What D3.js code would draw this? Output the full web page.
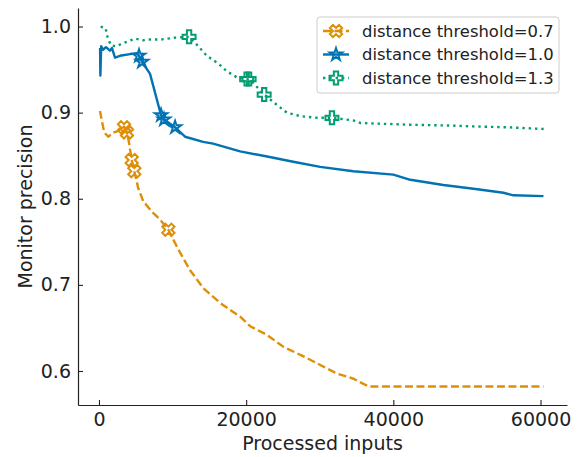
<!DOCTYPE html>
<html>
<head>
<meta charset="utf-8">
<script src="https://cdn.jsdelivr.net/npm/d3@7"></script>
<style>
  body { margin: 0; background: #fff; }
  svg { font-family: "DejaVu Sans", sans-serif; }
</style>
</head>
<body>
<svg width="577" height="457"></svg>
<script>
// series
let labels = ["distance threshold=0.7", "distance threshold=1.0", "distance threshold=1.3"];
let colors = ["#de8f05", "#0173b2", "#029e73"];

let x07 = [136, 449, 721, 1265, 1946, 2408, 2993, 3401, 3809, 4082, 4449, 4803, 5347, 6027, 7170, 8299, 9428, 10789, 12381, 14190, 16462, 19183, 20544, 22816, 25075, 27796, 30067, 32339, 34598, 36638, 60400];
let y07 = [0.902, 0.888, 0.877, 0.872, 0.877, 0.878, 0.882, 0.883, 0.877, 0.865, 0.845, 0.832, 0.812, 0.797, 0.785, 0.776, 0.764, 0.741, 0.717, 0.696, 0.679, 0.663, 0.652, 0.642, 0.628, 0.617, 0.607, 0.597, 0.591, 0.582, 0.582];
let mx07 = [3401, 3809, 4449, 4803, 9428];
let my07 = [0.883, 0.877, 0.845, 0.832, 0.764];

let x10 = [150, 190, 300, 544, 952, 1497, 1769, 2177, 2857, 4218, 5170, 5440, 5850, 6939, 8435, 8844, 10340, 11700, 14150, 15510, 19183, 22857, 26394, 30067, 34557, 40000, 42312, 46800, 51427, 54964, 56325, 60400];
let y10 = [0.975, 0.943, 0.977, 0.973, 0.976, 0.972, 0.975, 0.964, 0.966, 0.968, 0.969, 0.966, 0.959, 0.945, 0.897, 0.892, 0.883, 0.872, 0.866, 0.864, 0.855, 0.849, 0.843, 0.837, 0.832, 0.828, 0.822, 0.816, 0.811, 0.807, 0.804, 0.803];
let mx10 = [5440, 5850, 8435, 8844, 10340];
let my10 = [0.966, 0.959, 0.897, 0.892, 0.883];

let x13 = [231, 912, 1048, 1265, 1633, 2408, 3088, 3986, 4898, 5986, 6939, 8530, 10245, 12245, 13292, 14653, 16231, 17374, 18734, 20067, 20544, 22448, 24176, 25537, 27346, 29618, 31659, 34557, 35509, 41863, 47754, 50883, 55468, 60447];
let y13 = [1.000, 0.998, 0.991, 0.985, 0.978, 0.977, 0.980, 0.983, 0.986, 0.984, 0.985, 0.985, 0.987, 0.988, 0.979, 0.966, 0.957, 0.948, 0.941, 0.939, 0.938, 0.921, 0.909, 0.900, 0.896, 0.894, 0.894, 0.891, 0.888, 0.886, 0.885, 0.884, 0.883, 0.881];
let mx13 = [12245, 20067, 20400, 22448, 31659];
let my13 = [0.988, 0.939, 0.939, 0.921, 0.894];

let xTicks = [0, 20000, 40000, 60000];
let yTicks = [0.6, 0.7, 0.8, 0.9, 1.0];

let svg = d3.select('svg');

let plotLeft = 78, plotRight = 567, plotTop = 8, plotBottom = 405;
let x = d3.scaleLinear().domain([-2850, 63600]).range([plotLeft, plotRight]);
let y = d3.scaleLinear().domain([0.5605, 1.0215]).range([plotBottom, plotTop]);

// marker shapes, matplotlib style (P, X, *)
let plusPts = [[-1,-3],[1,-3],[1,-1],[3,-1],[3,1],[1,1],[1,3],[-1,3],[-1,1],[-3,1],[-3,-1],[-1,-1]];
function plusPath(s) {
  let u = s / 6;
  return "M" + plusPts.map(p => [p[0]*u, p[1]*u].join(",")).join("L") + "Z";
}
function crossPath(s) {
  let u = s / 6;
  let c = Math.SQRT1_2;
  return "M" + plusPts.map(p => [(p[0]-p[1])*c*u, (p[0]+p[1])*c*u].join(",")).join("L") + "Z";
}
function starPath(s) {
  let r = s / 2, ri = r * 0.381966, pts = [];
  for (let i = 0; i < 10; i++) {
    let a = -Math.PI / 2 + i * Math.PI / 5;
    let rr = i % 2 == 0 ? r : ri;
    pts.push([rr * Math.cos(a), rr * Math.sin(a)]);
  }
  return "M" + pts.map(p => p.join(",")).join("L") + "Z";
}

let series = [
  {xs: x07, ys: y07, mx: mx07, my: my07, dash: "8,3.5", marker: crossPath(13), width: 2.4},
  {xs: x10, ys: y10, mx: mx10, my: my10, dash: null, marker: starPath(13), width: 2.4},
  {xs: x13, ys: y13, mx: mx13, my: my13, dash: "2.4,3.9", marker: plusPath(13), width: 2.4}
];

let line = d3.line().x(d => x(d[0])).y(d => y(d[1]));

let plot = svg.append('g');
series.forEach(function(s, i) {
  plot.append('path')
    .attr('d', line(s.xs.map((v, j) => [v, s.ys[j]])))
    .attr('fill', 'none')
    .attr('stroke', colors[i])
    .attr('stroke-width', s.width)
    .attr('stroke-dasharray', s.dash)
    .attr('stroke-linejoin', 'round');
  plot.selectAll(null).data(s.mx.map((v, j) => [v, s.my[j]])).enter().append('path')
    .attr('d', s.marker)
    .attr('transform', d => 'translate(' + x(d[0]) + ',' + y(d[1]) + ')')
    .attr('fill', 'none')
    .attr('stroke', colors[i])
    .attr('stroke-width', 2);
});

// axes, ticks pointing inward
let xAxisG = svg.append('g').attr('transform', 'translate(0,' + plotBottom + ')')
  .call(d3.axisBottom(x).tickValues(xTicks).tickFormat(d3.format('d')).tickSizeInner(-5).tickSizeOuter(0).tickPadding(8));
let yAxisG = svg.append('g').attr('transform', 'translate(' + plotLeft + ',0)')
  .call(d3.axisLeft(y).tickValues(yTicks).tickFormat(d3.format('.1f')).tickSizeInner(-5).tickSizeOuter(0).tickPadding(7));

[xAxisG, yAxisG].forEach(function(a) {
  a.selectAll('text').attr('font-size', 19).attr('fill', '#222').attr('font-family', '"DejaVu Sans", sans-serif');
  a.selectAll('line').attr('stroke', '#222').attr('stroke-width', 1.1);
  a.select('.domain').attr('stroke', '#222').attr('stroke-width', 1.2);
});

svg.append('text')
  .attr('x', (plotLeft + plotRight) / 2).attr('y', 450)
  .attr('text-anchor', 'middle').attr('font-size', 19).attr('fill', '#222')
  .text('Processed inputs');
svg.append('text')
  .attr('transform', 'translate(25,' + (plotTop + plotBottom) / 2 + ') rotate(-90)')
  .attr('text-anchor', 'middle').attr('dominant-baseline', 'central')
  .attr('font-size', 19).attr('fill', '#222')
  .text('Monitor precision');

// legend
let legend = svg.append('g');
legend.append('rect')
  .attr('x', 317).attr('y', 17).attr('width', 242).attr('height', 76).attr('rx', 3)
  .attr('fill', 'white').attr('fill-opacity', 0.8)
  .attr('stroke', '#cccccc').attr('stroke-width', 1);
series.forEach(function(s, i) {
  let ly = 31 + i * 23.5;
  legend.append('line')
    .attr('x1', 323).attr('x2', 349).attr('y1', ly).attr('y2', ly)
    .attr('stroke', colors[i]).attr('stroke-width', s.width)
    .attr('stroke-dasharray', s.dash);
  legend.append('path')
    .attr('d', s.marker)
    .attr('transform', 'translate(336,' + ly + ')')
    .attr('fill', 'none').attr('stroke', colors[i]).attr('stroke-width', 2);
  legend.append('text')
    .attr('x', 362).attr('y', ly)
    .attr('dominant-baseline', 'central')
    .attr('font-size', 16.4).attr('fill', '#222')
    .text(labels[i]);
});
</script>
</body>
</html>
